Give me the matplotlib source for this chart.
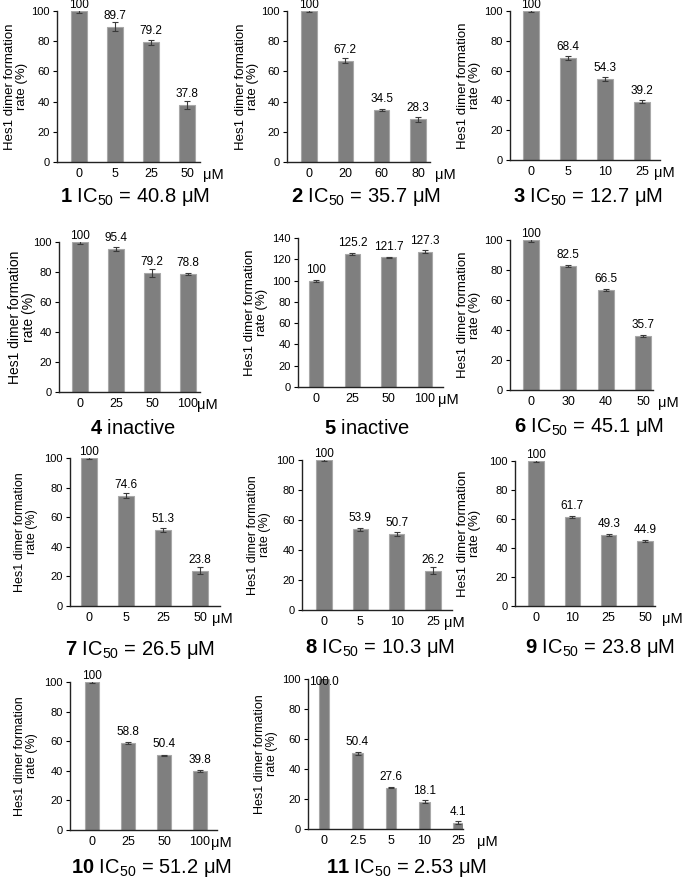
import matplotlib
matplotlib.use("Agg")
import matplotlib.pyplot as plt

plt.rcParams['font.family'] = ['Liberation Sans', 'DejaVu Sans']
plt.rcParams['mathtext.fontset'] = 'custom'
plt.rcParams['mathtext.rm'] = 'Liberation Sans'
plt.rcParams['mathtext.it'] = 'Liberation Sans:italic'
plt.rcParams['mathtext.bf'] = 'Liberation Sans:bold'

W, H = 685, 881

# data, one entry per compound
compounds = ["1", "2", "3", "4", "5", "6", "7", "8", "9", "10", "11"]
ic50 = ["40.8", "35.7", "12.7", None, None, "45.1", "26.5", "10.3", "23.8", "51.2", "2.53"]
concs = [
    ["0", "5", "25", "50"],
    ["0", "20", "60", "80"],
    ["0", "5", "10", "25"],
    ["0", "25", "50", "100"],
    ["0", "25", "50", "100"],
    ["0", "30", "40", "50"],
    ["0", "5", "25", "50"],
    ["0", "5", "10", "25"],
    ["0", "10", "25", "50"],
    ["0", "25", "50", "100"],
    ["0", "2.5", "5", "10", "25"],
]
rates = [
    [100, 89.7, 79.2, 37.8],
    [100, 67.2, 34.5, 28.3],
    [100, 68.4, 54.3, 39.2],
    [100, 95.4, 79.2, 78.8],
    [100, 125.2, 121.7, 127.3],
    [100, 82.5, 66.5, 35.7],
    [100, 74.6, 51.3, 23.8],
    [100, 53.9, 50.7, 26.2],
    [100, 61.7, 49.3, 44.9],
    [100, 58.8, 50.4, 39.8],
    [100.0, 50.4, 27.6, 18.1, 4.1],
]
errors = [
    [1.5, 3.0, 1.5, 2.5],
    [0.5, 1.5, 0.5, 1.5],
    [0.5, 1.5, 1.5, 1.0],
    [1.5, 1.5, 2.5, 0.5],
    [1.0, 0.8, 0.8, 1.0],
    [1.0, 0.7, 0.7, 0.7],
    [1.0, 1.5, 1.5, 2.5],
    [0.5, 1.0, 1.5, 2.5],
    [0.5, 0.7, 0.7, 0.5],
    [0.5, 0.5, 0.5, 0.5],
    [0.3, 1.0, 0.5, 1.0, 1.0],
]
ymax = [100, 100, 100, 100, 140, 100, 100, 100, 100, 100, 100]

# layout in pixels: axis x, axis end, first tick, last tick, top, bottom
boxes = [
    (57, 200, 79, 187, 11, 162),
    (287, 430, 309, 418, 11, 162),
    (510, 660, 531, 642, 11, 160),
    (59, 200, 80, 188, 242, 392),
    (298, 443, 316, 425, 238, 387),
    (510, 653, 531, 643, 240, 390),
    (70, 220, 89, 200, 458, 606),
    (302, 452, 324, 433, 460, 610),
    (515, 655, 536, 645, 461, 606),
    (70, 217, 92, 200, 682, 830),
    (308, 463, 324, 458, 679, 829),
]
title_pos = [(135, 197), (366, 197), (588, 197), (133, 428), (367, 428), (589, 427),
             (140, 650), (380, 648), (600, 648), (151, 868), (406, 868)]
ylab_x = [16, 247, 469, 22, 256, 469, 26, 259, 469, 26, 266]
ylab_size = [9.5, 9.5, 9.5, 10, 9.5, 9.5, 9, 9, 9.5, 9, 9]
mu_dx = [16, 17, 12, 9, 13, 15, 12, 11, 17, 11, 19]
bar_w = [0.42, 0.42, 0.42, 0.42, 0.41, 0.42, 0.42, 0.42, 0.42, 0.41, 0.3]

fig = plt.figure(figsize=(W / 100, H / 100), dpi=100)

for i in range(len(compounds)):
    x0, x1, t0, t1, top, bot = boxes[i]
    n = len(concs[i])
    ax = fig.add_axes([x0 / W, 1 - bot / H, (x1 - x0) / W, (bot - top) / H])
    s = (t1 - t0) / (n - 1)
    pos = list(range(n))
    ax.bar(pos, rates[i], width=bar_w[i], color='#7f7f7f', edgecolor='#a8a8a8', linewidth=0.8,
           yerr=errors[i], error_kw=dict(ecolor='#3a3a3a', elinewidth=0.8, capsize=2.5, capthick=0.8))
    ax.set_xlim((x0 - t0) / s, (x1 - t0) / s)
    ax.set_ylim(0, ymax[i])
    ax.set_yticks(range(0, ymax[i] + 1, 20))
    ax.set_xticks(pos)
    ax.set_xticklabels(concs[i])
    ax.tick_params(axis='x', length=0, pad=4, labelsize=9)
    ax.tick_params(axis='y', length=3, width=0.8, pad=2, labelsize=8, direction='out')
    for side in ['top', 'right']:
        ax.spines[side].set_visible(False)
    for side in ['left', 'bottom']:
        ax.spines[side].set_linewidth(1.0)
        ax.spines[side].set_color('#222222')

    for j in range(n):
        v = rates[i][j]
        txt = f"{v:.1f}" if i == 10 else f"{v:g}"
        if i == 10 and j == 0:
            dy = -2
        elif v >= ymax[i]:
            dy = 4.3
        else:
            dy = 7.9
        ax.annotate(txt, (j, v), xytext=(0, dy), textcoords='offset points',
                    ha='center', va='center', fontsize=8.5, annotation_clip=False)

    ax.annotate("\u03bcM", (n - 1, 0), xytext=(mu_dx[i] * 0.72, -13 * 0.72),
                textcoords='offset points', ha='left', va='center', fontsize=10.5,
                annotation_clip=False)

    ax.set_ylabel("Hes1 dimer formation\nrate (%)", fontsize=ylab_size[i], linespacing=1.05)
    ax.yaxis.set_label_coords((ylab_x[i] - x0) / (x1 - x0), 0.5)
    ax.yaxis.label.set_verticalalignment('center')

    if ic50[i] is None:
        title = r"$\mathbf{" + compounds[i] + r"}$ inactive"
    else:
        title = r"$\mathbf{" + compounds[i] + r"}$ IC$_{50}$ = " + ic50[i] + " \u03bcM"
    tx, ty = title_pos[i]
    fig.text(tx / W, 1 - ty / H, title, ha='center', va='center', fontsize=14.5)

fig.savefig("out.png", dpi=100)
